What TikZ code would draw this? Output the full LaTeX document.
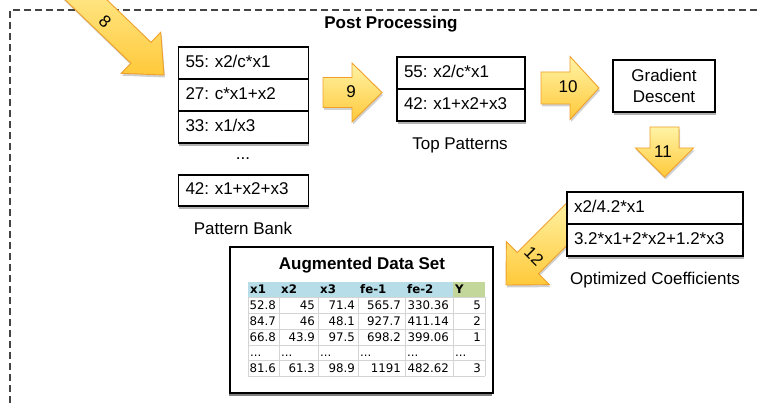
\documentclass[tikz,border=0pt]{standalone}
\usepackage{fontspec}
\setmainfont{Liberation Sans}
\newfontfamily\tabfont{DejaVu Sans}
\usetikzlibrary{shadows,calc}
\frenchspacing

\definecolor{arrowfillA}{HTML}{FFF3A6}
\definecolor{arrowfillB}{HTML}{FFC93A}
\definecolor{arrowedge}{HTML}{EFA02A}
\definecolor{hdrblue}{HTML}{B7DDE8}
\definecolor{hdrgreen}{HTML}{C4D79B}
\definecolor{gridgray}{HTML}{D4D4D4}
\definecolor{framegray}{HTML}{444444}

\tikzset{
  cellbase/.style={draw=black, line width=1.1pt, fill=white, minimum height=32pt,
    inner xsep=7pt, inner ysep=0pt, align=left,
    font=\fontsize{17}{20}\selectfont,
    drop shadow={shadow xshift=0.8pt, shadow yshift=-3pt, opacity=0.3, fill=black}},
  cell/.style={cellbase, text height=12pt, text depth=3.5pt},
  captext/.style={font=\fontsize{17}{20}\selectfont, inner sep=0pt},
  bigarrow/.style={draw=arrowedge, line width=0.9pt, top color=arrowfillA,
    bottom color=arrowfillB, line join=miter,
    drop shadow={shadow xshift=1pt, shadow yshift=-2.5pt, opacity=0.18, fill=black}},
  arrowlabel/.style={font=\fontsize{17}{20}\selectfont, inner sep=0pt},
  hdr/.style={font=\tabfont\bfseries\fontsize{11.8}{13}\selectfont, anchor=base west, inner sep=0pt},
  num/.style={font=\tabfont\fontsize{11.8}{13}\selectfont, anchor=base east, inner sep=0pt},
  tdots/.style={font=\tabfont\fontsize{11.8}{13}\selectfont, anchor=base west, inner sep=0pt},
}

% #1 name, #2 tail, #3 tip, #4 half shaft width, #5 half head width, #6 head length
\newcommand{\drawbigarrow}[6]{%
  \coordinate (#1-T) at #2;
  \coordinate (#1-P) at #3;
  \coordinate (#1-B) at ($(#1-P)!#6!(#1-T)$);
  \path[bigarrow] ($(#1-T)!#4!90:(#1-P)$) -- ($(#1-B)!#4!90:(#1-P)$)
    -- ($(#1-B)!#5!90:(#1-P)$) -- (#1-P) -- ($(#1-B)!#5!-90:(#1-P)$)
    -- ($(#1-B)!#4!-90:(#1-P)$) -- ($(#1-T)!#4!-90:(#1-P)$) -- cycle;
}

% #1 row id, #2 baseline y, #3..#8 values
\newcommand{\datarow}[8]{%
  \node[num] (#1a) at (276,#2) {#3};
  \node[num] (#1b) at (315,#2) {#4};
  \node[num] (#1c) at (355,#2) {#5};
  \node[num] (#1d) at (401,#2) {#6};
  \node[num] (#1e) at (449,#2) {#7};
  \node[num] (#1f) at (481,#2) {#8};
}

\begin{document}
\begin{tikzpicture}[x=1pt,y=-1pt]
\useasboundingbox (0,0) rectangle (757,406);
\clip (0,0) rectangle (757,406);

% dashed frame
\draw[framegray, line width=1.4pt, dash pattern=on 7pt off 4pt] (757,10) -- (10,10) -- (10,406);
\node[font=\bfseries\fontsize{17}{20}\selectfont, inner sep=0pt] (title) at (391,24) {Post Processing};

% big arrows
\drawbigarrow{a8}{(52,-33)}{(164,75)}{14.5pt}{28.5pt}{32pt}
\drawbigarrow{a9}{(323,92.5)}{(382,92.5)}{15pt}{29.5pt}{30pt}
\drawbigarrow{a10}{(541,88)}{(599,88)}{16pt}{31.5pt}{29pt}
\drawbigarrow{a11}{(664.5,127)}{(664.5,177)}{14.5pt}{29pt}{29pt}
\drawbigarrow{a12}{(582,209)}{(506,285)}{15pt}{30.5pt}{31pt}

\node[arrowlabel, rotate=-44] (l8) at (105,22) {8};
\node[arrowlabel] (l9) at (351,92) {9};
\node[arrowlabel] (l10) at (568,87) {10};
\node[arrowlabel] (l11) at (663,152) {11};
\node[arrowlabel, rotate=-45] (l12) at (534,256) {12};

% pattern bank
\node[cell, text width=116pt] (pb1) at (243.5,63) {55: x2/c*x1};
\node[cell, text width=116pt] (pb2) at (243.5,95) {27: c*x1+x2};
\node[cell, text width=116pt] (pb3) at (243.5,127) {33: x1/x3};
\node[captext] (pbdots) at (243,159) {...};
\node[cell, text width=116pt, minimum height=31pt] (pb4) at (243.5,190.5) {42: x1+x2+x3};
\node[captext] (pblabel) at (243,228) {Pattern Bank};

% top patterns
\node[cell, text width=114pt] (tp1) at (461,73) {55: x2/c*x1};
\node[cell, text width=114pt] (tp2) at (461,105) {42: x1+x2+x3};
\node[captext] (tplabel) at (460,145) {Top Patterns};

% gradient descent
\node[cellbase, text width=88pt, align=center, minimum height=52pt,
  font=\fontsize{17}{21}\selectfont] (gd) at (664,86) {Gradient\\Descent};

% optimized coefficients
\node[cell, text width=162pt] (oc1) at (655,208) {x2/4.2*x1};
\node[cell, text width=162pt] (oc2) at (655,240) {3.2*x1+2*x2+1.2*x3};
\node[captext] (oclabel) at (655,280) {Optimized Coefficients};

% augmented data set panel
\node[draw=black, line width=1.2pt, fill=white, minimum width=263pt, minimum height=146pt,
  inner sep=0pt, drop shadow={shadow xshift=-1.5pt, shadow yshift=-3pt, opacity=0.5, fill=black}]
  (ads) at (361.5,320) {};
\node[font=\bfseries\fontsize{17}{20}\selectfont, inner sep=0pt] (adstitle) at (362,265) {Augmented Data Set};

\fill[hdrblue] (248,282) rectangle (453,297);
\fill[hdrgreen] (453,282) rectangle (485,297);
\foreach \yy in {297,313,329,345,360,376}
  \draw[gridgray, line width=0.8pt] (248,\yy) -- (485,\yy);
\foreach \xx in {248,279,318,358,405,453,485}
  \draw[gridgray, line width=0.8pt] (\xx,297) -- (\xx,376);

\node[hdr] (h1) at (250,293.5) {x1};
\node[hdr] (h2) at (281,293.5) {x2};
\node[hdr] (h3) at (320,293.5) {x3};
\node[hdr] (h4) at (360,293.5) {fe-1};
\node[hdr] (h5) at (407,293.5) {fe-2};
\node[hdr] (h6) at (455,293.5) {Y};

\datarow{r1}{309}{52.8}{45}{71.4}{565.7}{330.36}{5}
\datarow{r2}{325}{84.7}{46}{48.1}{927.7}{411.14}{2}
\datarow{r3}{341}{66.8}{43.9}{97.5}{698.2}{399.06}{1}
\node[tdots] (d1) at (250,356) {...};
\node[tdots] (d2) at (281,356) {...};
\node[tdots] (d3) at (320,356) {...};
\node[tdots] (d4) at (360,356) {...};
\node[tdots] (d5) at (407,356) {...};
\node[tdots] (d6) at (455,356) {...};
\datarow{r5}{372}{81.6}{61.3}{98.9}{1191}{482.62}{3}

\end{tikzpicture}
\end{document}
